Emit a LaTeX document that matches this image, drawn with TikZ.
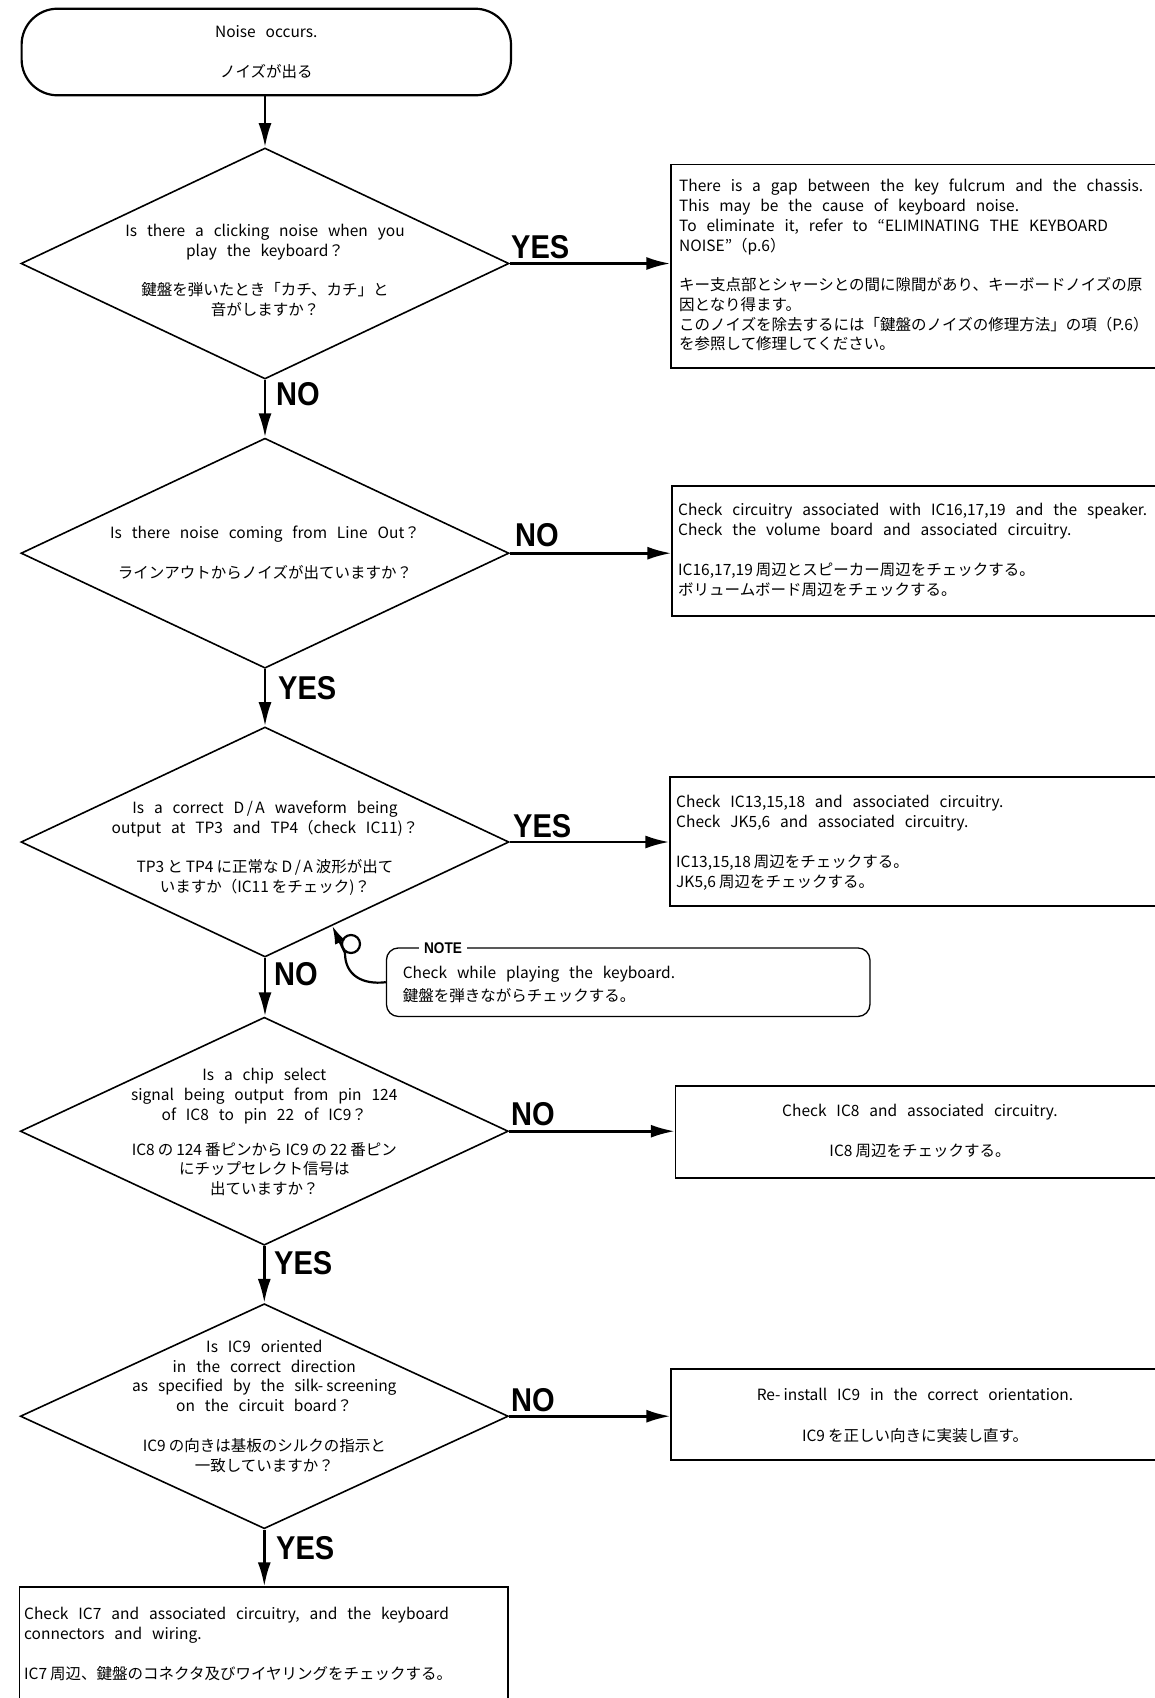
\documentclass[tikz,border=0pt]{standalone}
\usepackage{fontspec}
\setmainfont{Noto Sans CJK JP}[WordSpace=2.85]
\newfontfamily\lblfont{Liberation Sans}[FakeStretch=0.88]
\usetikzlibrary{shapes.geometric,arrows.meta,calc}
\newcommand\fstrut{\rule{0pt}{14pt}}
\newcommand\qs{\hspace{3pt}}
\tikzset{
  dia/.style={draw, line width=1.6pt, shape=diamond, minimum width=488pt, minimum height=230pt, inner sep=0pt},
  term/.style={draw, line width=2.2pt, rounded corners=36pt, minimum width=489.4pt, minimum height=86.6pt, inner sep=0pt},
  boxr/.style={draw, line width=1.3pt, rectangle, inner sep=0pt},
  notebox/.style={draw, line width=1.3pt, rectangle, rounded corners=12pt, inner sep=0pt},
  txt/.style={inner sep=0pt, font=\fontsize{15.5}{19.7}\selectfont},
  ctxt/.style={txt, align=center, anchor=north},
  ltxt/.style={txt, align=left, anchor=north west},
  lbl/.style={inner sep=0pt, font=\lblfont\bfseries\fontsize{33}{33}\selectfont, anchor=west},
  notelbl/.style={inner sep=0pt, inner xsep=5pt, fill=white, font=\lblfont\bfseries\fontsize{15.5}{15.5}\selectfont},
  arr/.style={line width=2.6pt, -{Latex[length=24pt,width=13pt]}},
  lead/.style={line width=2.2pt},
}
\begin{document}
\begin{tikzpicture}[x=1pt,y=-1pt]
\useasboundingbox (0,0) rectangle (1155,1698);
\fill[white] (0,0) rectangle (1155,1698);
\clip (0,0) rectangle (1155,1698);

% terminal
\node[term] (t) at (266.3,52) {};
\node[ctxt] (tt) at (266.3,23.1) {\fstrut Noise occurs.\\[20.3pt] ノイズが出る};

% diamonds
\node[dia, minimum height=231pt] (d1) at (265,263.5) {};
\node[ctxt] (d1t) at (265,222.3) {\fstrut Is there a clicking noise when you\\ play the keyboard？\\[20pt] 鍵盤を弾いたとき「カチ、カチ」と\\ 音がしますか？};

\node[dia] (d2) at (265,553.2) {};
\node[ctxt] (d2t) at (265,524.3) {\fstrut Is there noise coming from Line Out？\\[20.3pt] ラインアウトからノイズが出ていますか？};

\node[dia] (d3) at (265,842) {};
\node[ctxt] (d3t) at (265,799.2) {\fstrut Is a correct D\,/\,A waveform being\\ output at TP3 and TP4（check IC11)？\\[20pt] TP3\qs と\qs TP4\qs に正常な\qs D\,/\,A\qs 波形が出て\\ いますか（IC11\qs をチェック)？};

\node[dia, minimum height=228pt] (d4) at (264.3,1131.2) {};
\node[ctxt] (d4t) at (264.3,1066.7) {\fstrut Is a chip select\\ signal being output from pin 124\\ of IC8 to pin 22 of IC9？\\[15pt] IC8\qs の\qs 124\qs 番ピンから\qs IC9\qs の\qs 22\qs 番ピン\\ にチップセレクト信号は\\ 出ていますか？};

\node[dia, minimum height=225pt] (d5) at (264.3,1416.2) {};
\node[ctxt] (d5t) at (264.3,1338.3) {\fstrut Is IC9 oriented\\ in the correct direction\\ as specified by the silk-\qs screening\\ on the circuit board？\\[20.6pt] IC9\qs の向きは基板のシルクの指示と\\ 一致していますか？};

% result boxes
\node[boxr, minimum width=494pt, minimum height=203.5pt] (b1) at (918,266.2) {};
\node[ltxt] (b1t) at (679,177.7) {\fstrut There is a gap between the key fulcrum and the chassis.\\ This may be the cause of keyboard noise.\\ To eliminate it, refer to “ELIMINATING THE KEYBOARD\\ NOISE”（p.6）\\[20pt] キー支点部とシャーシとの間に隙間があり、キーボードノイズの原\\ 因となり得ます。\\ このノイズを除去するには「鍵盤のノイズの修理方法」の項（P.6）\\ を参照して修理してください。};

\node[boxr, minimum width=493pt, minimum height=130pt] (b2) at (918.5,551) {};
\node[ltxt] (b2t) at (678,501.7) {\fstrut Check circuitry associated with IC16,17,19 and the speaker.\\ Check the volume board and associated circuitry.\\[20pt] IC16,17,19\qs 周辺とスピーカー周辺をチェックする。\\ ボリュームボード周辺をチェックする。};

\node[boxr, minimum width=495pt, minimum height=129pt] (b3) at (917.5,841.5) {};
\node[ltxt] (b3t) at (676,793.7) {\fstrut Check IC13,15,18 and associated circuitry.\\ Check JK5,6 and associated circuitry.\\[20pt] IC13,15,18\qs 周辺をチェックする。\\ JK5,6\qs 周辺をチェックする。};

\node[boxr, minimum width=489.5pt, minimum height=92pt] (b4) at (920.2,1132) {};
\node[ctxt] (b4t) at (920,1102.3) {\fstrut Check IC8 and associated circuitry.\\[20.3pt] IC8\qs 周辺をチェックする。};

\node[boxr, minimum width=494pt, minimum height=91pt] (b5) at (918,1414.5) {};
\node[ctxt] (b5t) at (915,1386.7) {\fstrut Re-\qs install IC9 in the correct orientation.\\[20.7pt] IC9\qs を正しい向きに実装し直す。};

\node[boxr, minimum width=488.5pt, minimum height=123pt] (b6) at (263.8,1648.5) {};
\node[ltxt] (b6t) at (24,1605.7) {\fstrut Check IC7 and associated circuitry, and the keyboard\\ connectors and wiring.\\[20pt] IC7\qs 周辺、鍵盤のコネクタ及びワイヤリングをチェックする。};

% note
\node[notebox, minimum width=483.5pt, minimum height=68.5pt] (note) at (628.2,982.2) {};
\node[notelbl] (notel) at (443,948) {NOTE};
\node[ltxt] (notet) at (402.6,964.7) {\fstrut Check while playing the keyboard.\\[3.3pt] 鍵盤を弾きながらチェックする。};

% connectors
\draw[arr] (d1.north |- t.south) -- (d1.north);
\draw[arr] (d1.east) -- (d1.east -| b1.west);
\draw[arr] (d1.south) -- (d2.north);
\draw[arr] (d2.east) -- (d2.east -| b2.west);
\draw[arr] (d2.south) -- (d3.north);
\draw[arr] (d3.east) -- (d3.east -| b3.west);
\draw[arr] (d3.south) -- (d3.south |- d4.north);
\draw[arr] (d4.east) -- (d4.east -| b4.west);
\draw[arr] (d4.south) -- (d5.north);
\draw[arr] (d5.east) -- (d5.east -| b5.west);
\draw[arr] (d5.south) -- (d5.south |- b6.north);

% note leader
\coordinate (ntip) at ($(d3.south)!0.275!(d3.east)$);
\coordinate (nj) at (345,953);
\draw[lead] (note.west) .. controls (362,985) and (345,975) .. (nj);
\draw[lead] (351,944) circle[radius=9pt];
\draw[lead, -{Latex[length=18pt,width=11pt]}] (nj) -- (ntip);

% labels
\node[lbl] (l1) at (511,247) {YES};
\node[lbl] (l2) at (276,394) {NO};
\node[lbl] (l3) at (515,535) {NO};
\node[lbl] (l4) at (278,688) {YES};
\node[lbl] (l5) at (513,826) {YES};
\node[lbl] (l6) at (274,974) {NO};
\node[lbl] (l7) at (511,1114) {NO};
\node[lbl] (l8) at (274,1263) {YES};
\node[lbl] (l9) at (511,1400) {NO};
\node[lbl] (l10) at (276,1548) {YES};
\end{tikzpicture}
\end{document}
